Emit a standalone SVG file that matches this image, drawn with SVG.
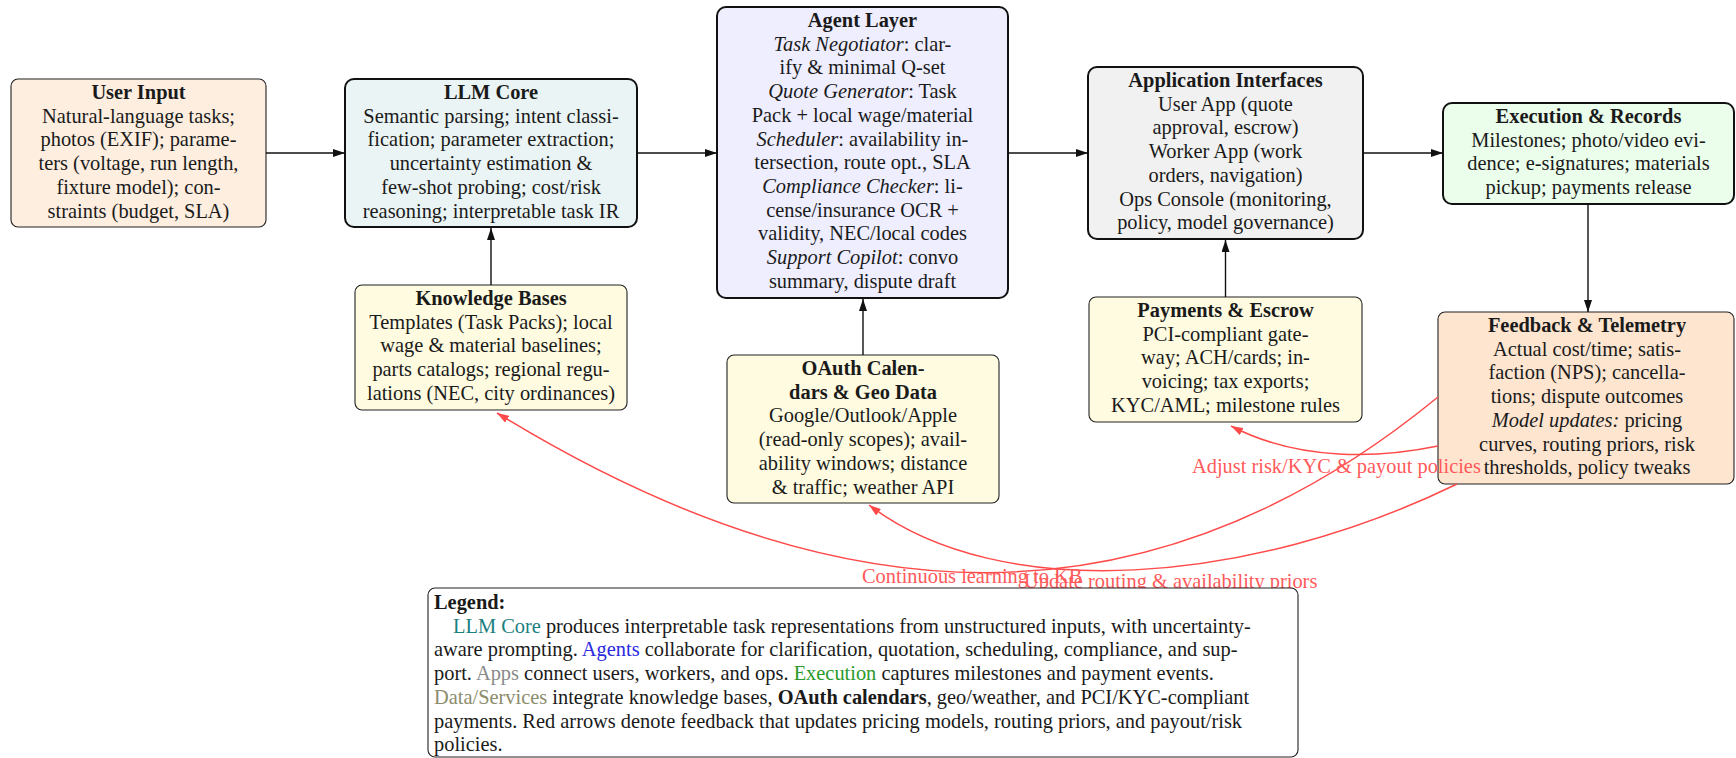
<svg xmlns="http://www.w3.org/2000/svg" width="1736" height="758" viewBox="0 0 1736 758">
<defs>
<style>
text{font-family:"Liberation Serif","Times New Roman",serif;font-size:20.4px;fill:#1a1a1a}
.c{text-anchor:middle}
.b{font-weight:bold}
.i{font-style:italic}
.thick{stroke:#111;stroke-width:2}
.thin{stroke:#222;stroke-width:1.1}
.conn{stroke:#111;stroke-width:1.4;fill:none}
.fb{stroke:#ff4a4a;stroke-width:1.5;fill:none}
.fbl{fill:#ff5a5a}
</style>
<marker id="ah" markerUnits="userSpaceOnUse" markerWidth="12" markerHeight="8" refX="12" refY="4" orient="auto">
<path d="M0,0 L12,4 L0,8 z" fill="#111"/>
</marker>
<marker id="ahr" markerUnits="userSpaceOnUse" markerWidth="12" markerHeight="8" refX="12" refY="4" orient="auto">
<path d="M0,0 L12,4 L0,8 z" fill="#ff4a4a"/>
</marker>
</defs>
<rect width="1736" height="758" fill="#fff"/>

<g id="user-input">
<rect class="thin" x="11" y="79" width="255" height="148" rx="7" fill="#fdeee0"/>
<text class="c" x="138.5" y="99"><tspan class="b">User Input</tspan></text>
<text class="c" x="138.5" y="122.7">Natural-language tasks;</text>
<text class="c" x="138.5" y="146.4">photos (EXIF); parame-</text>
<text class="c" x="138.5" y="170.1">ters (voltage, run length,</text>
<text class="c" x="138.5" y="193.8">fixture model); con-</text>
<text class="c" x="138.5" y="217.5">straints (budget, SLA)</text>
</g>

<g id="llm-core">
<rect class="thick" x="345" y="79" width="292" height="148" rx="9" fill="#eaf4f4"/>
<text class="c" x="491" y="99"><tspan class="b">LLM Core</tspan></text>
<text class="c" x="491" y="122.7">Semantic parsing; intent classi-</text>
<text class="c" x="491" y="146.4">fication; parameter extraction;</text>
<text class="c" x="491" y="170.1">uncertainty estimation &amp;</text>
<text class="c" x="491" y="193.8">few-shot probing; cost/risk</text>
<text class="c" x="491" y="217.5">reasoning; interpretable task IR</text>
</g>

<g id="agent-layer">
<rect class="thick" x="717" y="7" width="291" height="291" rx="9" fill="#eeeeff"/>
<text class="c" x="862.5" y="27"><tspan class="b">Agent Layer</tspan></text>
<text class="c" x="862.5" y="50.7"><tspan class="i">Task Negotiator</tspan>: clar-</text>
<text class="c" x="862.5" y="74.4">ify &amp; minimal Q-set</text>
<text class="c" x="862.5" y="98.1"><tspan class="i">Quote Generator</tspan>: Task</text>
<text class="c" x="862.5" y="121.8">Pack + local wage/material</text>
<text class="c" x="862.5" y="145.5"><tspan class="i">Scheduler</tspan>: availability in-</text>
<text class="c" x="862.5" y="169.2">tersection, route opt., SLA</text>
<text class="c" x="862.5" y="192.9"><tspan class="i">Compliance Checker</tspan>: li-</text>
<text class="c" x="862.5" y="216.6">cense/insurance OCR +</text>
<text class="c" x="862.5" y="240.3">validity, NEC/local codes</text>
<text class="c" x="862.5" y="264"><tspan class="i">Support Copilot</tspan>: convo</text>
<text class="c" x="862.5" y="287.7">summary, dispute draft</text>
</g>

<g id="application-interfaces">
<rect class="thick" x="1088" y="67" width="275" height="172" rx="9" fill="#f1f1f1"/>
<text class="c" x="1225.5" y="87"><tspan class="b">Application Interfaces</tspan></text>
<text class="c" x="1225.5" y="110.7">User App (quote</text>
<text class="c" x="1225.5" y="134.4">approval, escrow)</text>
<text class="c" x="1225.5" y="158.1">Worker App (work</text>
<text class="c" x="1225.5" y="181.8">orders, navigation)</text>
<text class="c" x="1225.5" y="205.5">Ops Console (monitoring,</text>
<text class="c" x="1225.5" y="229.2">policy, model governance)</text>
</g>

<g id="execution-records">
<rect class="thick" x="1443" y="103" width="291" height="101" rx="9" fill="#ebfdeb"/>
<text class="c" x="1588.5" y="123"><tspan class="b">Execution &amp; Records</tspan></text>
<text class="c" x="1588.5" y="146.7">Milestones; photo/video evi-</text>
<text class="c" x="1588.5" y="170.4">dence; e-signatures; materials</text>
<text class="c" x="1588.5" y="194.1">pickup; payments release</text>
</g>

<g id="knowledge-bases">
<rect class="thin" x="355" y="285" width="272" height="125" rx="7" fill="#fefbe0"/>
<text class="c" x="491" y="305"><tspan class="b">Knowledge Bases</tspan></text>
<text class="c" x="491" y="328.7">Templates (Task Packs); local</text>
<text class="c" x="491" y="352.4">wage &amp; material baselines;</text>
<text class="c" x="491" y="376.1">parts catalogs; regional regu-</text>
<text class="c" x="491" y="399.8">lations (NEC, city ordinances)</text>
</g>

<g id="oauth-geo">
<rect class="thin" x="727" y="355" width="272" height="148" rx="7" fill="#fefbe0"/>
<text class="c" x="863" y="375"><tspan class="b">OAuth Calen-</tspan></text>
<text class="c" x="863" y="398.7"><tspan class="b">dars &amp; Geo Data</tspan></text>
<text class="c" x="863" y="422.4">Google/Outlook/Apple</text>
<text class="c" x="863" y="446.1">(read-only scopes); avail-</text>
<text class="c" x="863" y="469.8">ability windows; distance</text>
<text class="c" x="863" y="493.5">&amp; traffic; weather API</text>
</g>

<g id="payments-escrow">
<rect class="thin" x="1089" y="297" width="273" height="125" rx="7" fill="#fefbe0"/>
<text class="c" x="1225.5" y="317"><tspan class="b">Payments &amp; Escrow</tspan></text>
<text class="c" x="1225.5" y="340.7">PCI-compliant gate-</text>
<text class="c" x="1225.5" y="364.4">way; ACH/cards; in-</text>
<text class="c" x="1225.5" y="388.1">voicing; tax exports;</text>
<text class="c" x="1225.5" y="411.8">KYC/AML; milestone rules</text>
</g>

<g id="feedback-telemetry">
<rect class="thin" x="1438" y="312" width="296" height="172" rx="7" fill="#fde5d0"/>
<text class="c" x="1587" y="332"><tspan class="b">Feedback &amp; Telemetry</tspan></text>
<text class="c" x="1587" y="355.7">Actual cost/time; satis-</text>
<text class="c" x="1587" y="379.4">faction (NPS); cancella-</text>
<text class="c" x="1587" y="403.1">tions; dispute outcomes</text>
<text class="c" x="1587" y="426.8"><tspan class="i">Model updates:</tspan> pricing</text>
<text class="c" x="1587" y="450.5">curves, routing priors, risk</text>
<text class="c" x="1587" y="474.2">thresholds, policy tweaks</text>
</g>

<g id="connectors">
<line class="conn" x1="266" y1="153" x2="345" y2="153" marker-end="url(#ah)"/>
<line class="conn" x1="637" y1="153" x2="717" y2="153" marker-end="url(#ah)"/>
<line class="conn" x1="1008" y1="153" x2="1088" y2="153" marker-end="url(#ah)"/>
<line class="conn" x1="1363" y1="153" x2="1443" y2="153" marker-end="url(#ah)"/>
<line class="conn" x1="491" y1="285" x2="491" y2="228" marker-end="url(#ah)"/>
<line class="conn" x1="863" y1="355" x2="863" y2="299" marker-end="url(#ah)"/>
<line class="conn" x1="1225.5" y1="297" x2="1225.5" y2="240" marker-end="url(#ah)"/>
<line class="conn" x1="1588" y1="204" x2="1588" y2="312" marker-end="url(#ah)"/>
<path class="fb" d="M1438,397 C1148,635 837,622 497,413" marker-end="url(#ahr)"/>
<path class="fb" d="M1457,484 C1250,585 1000,605 869,505" marker-end="url(#ahr)"/>
<path class="fb" d="M1438,446 C1380,458 1300,462 1231,426" marker-end="url(#ahr)"/>
<text class="fbl" x="862" y="583">Continuous learning to KB</text>
<text class="fbl" x="1024" y="588">Update routing &amp; availability priors</text>
<text class="fbl" x="1192" y="473">Adjust risk/KYC &amp; payout policies</text>
</g>

<g id="legend">
<rect class="thin" x="428" y="588" width="870" height="169" rx="7" fill="#fff"/>
<text x="434" y="609"><tspan class="b">Legend:</tspan></text>
<text x="434" y="632.7"><tspan x="453" fill="#1a8080">LLM Core</tspan> produces interpretable task representations from unstructured inputs, with uncertainty-</text>
<text x="434" y="656.4">aware prompting. <tspan fill="#2a2ae0">Agents</tspan> collaborate for clarification, quotation, scheduling, compliance, and sup-</text>
<text x="434" y="680.1">port. <tspan fill="#8a8a8a">Apps</tspan> connect users, workers, and ops. <tspan fill="#2a9a2a">Execution</tspan> captures milestones and payment events.</text>
<text x="434" y="703.8"><tspan fill="#8c8c6c">Data/Services</tspan> integrate knowledge bases, <tspan class="b">OAuth calendars</tspan>, geo/weather, and PCI/KYC-compliant</text>
<text x="434" y="727.5">payments. Red arrows denote feedback that updates pricing models, routing priors, and payout/risk</text>
<text x="434" y="751.2">policies.</text>
</g>
</svg>
